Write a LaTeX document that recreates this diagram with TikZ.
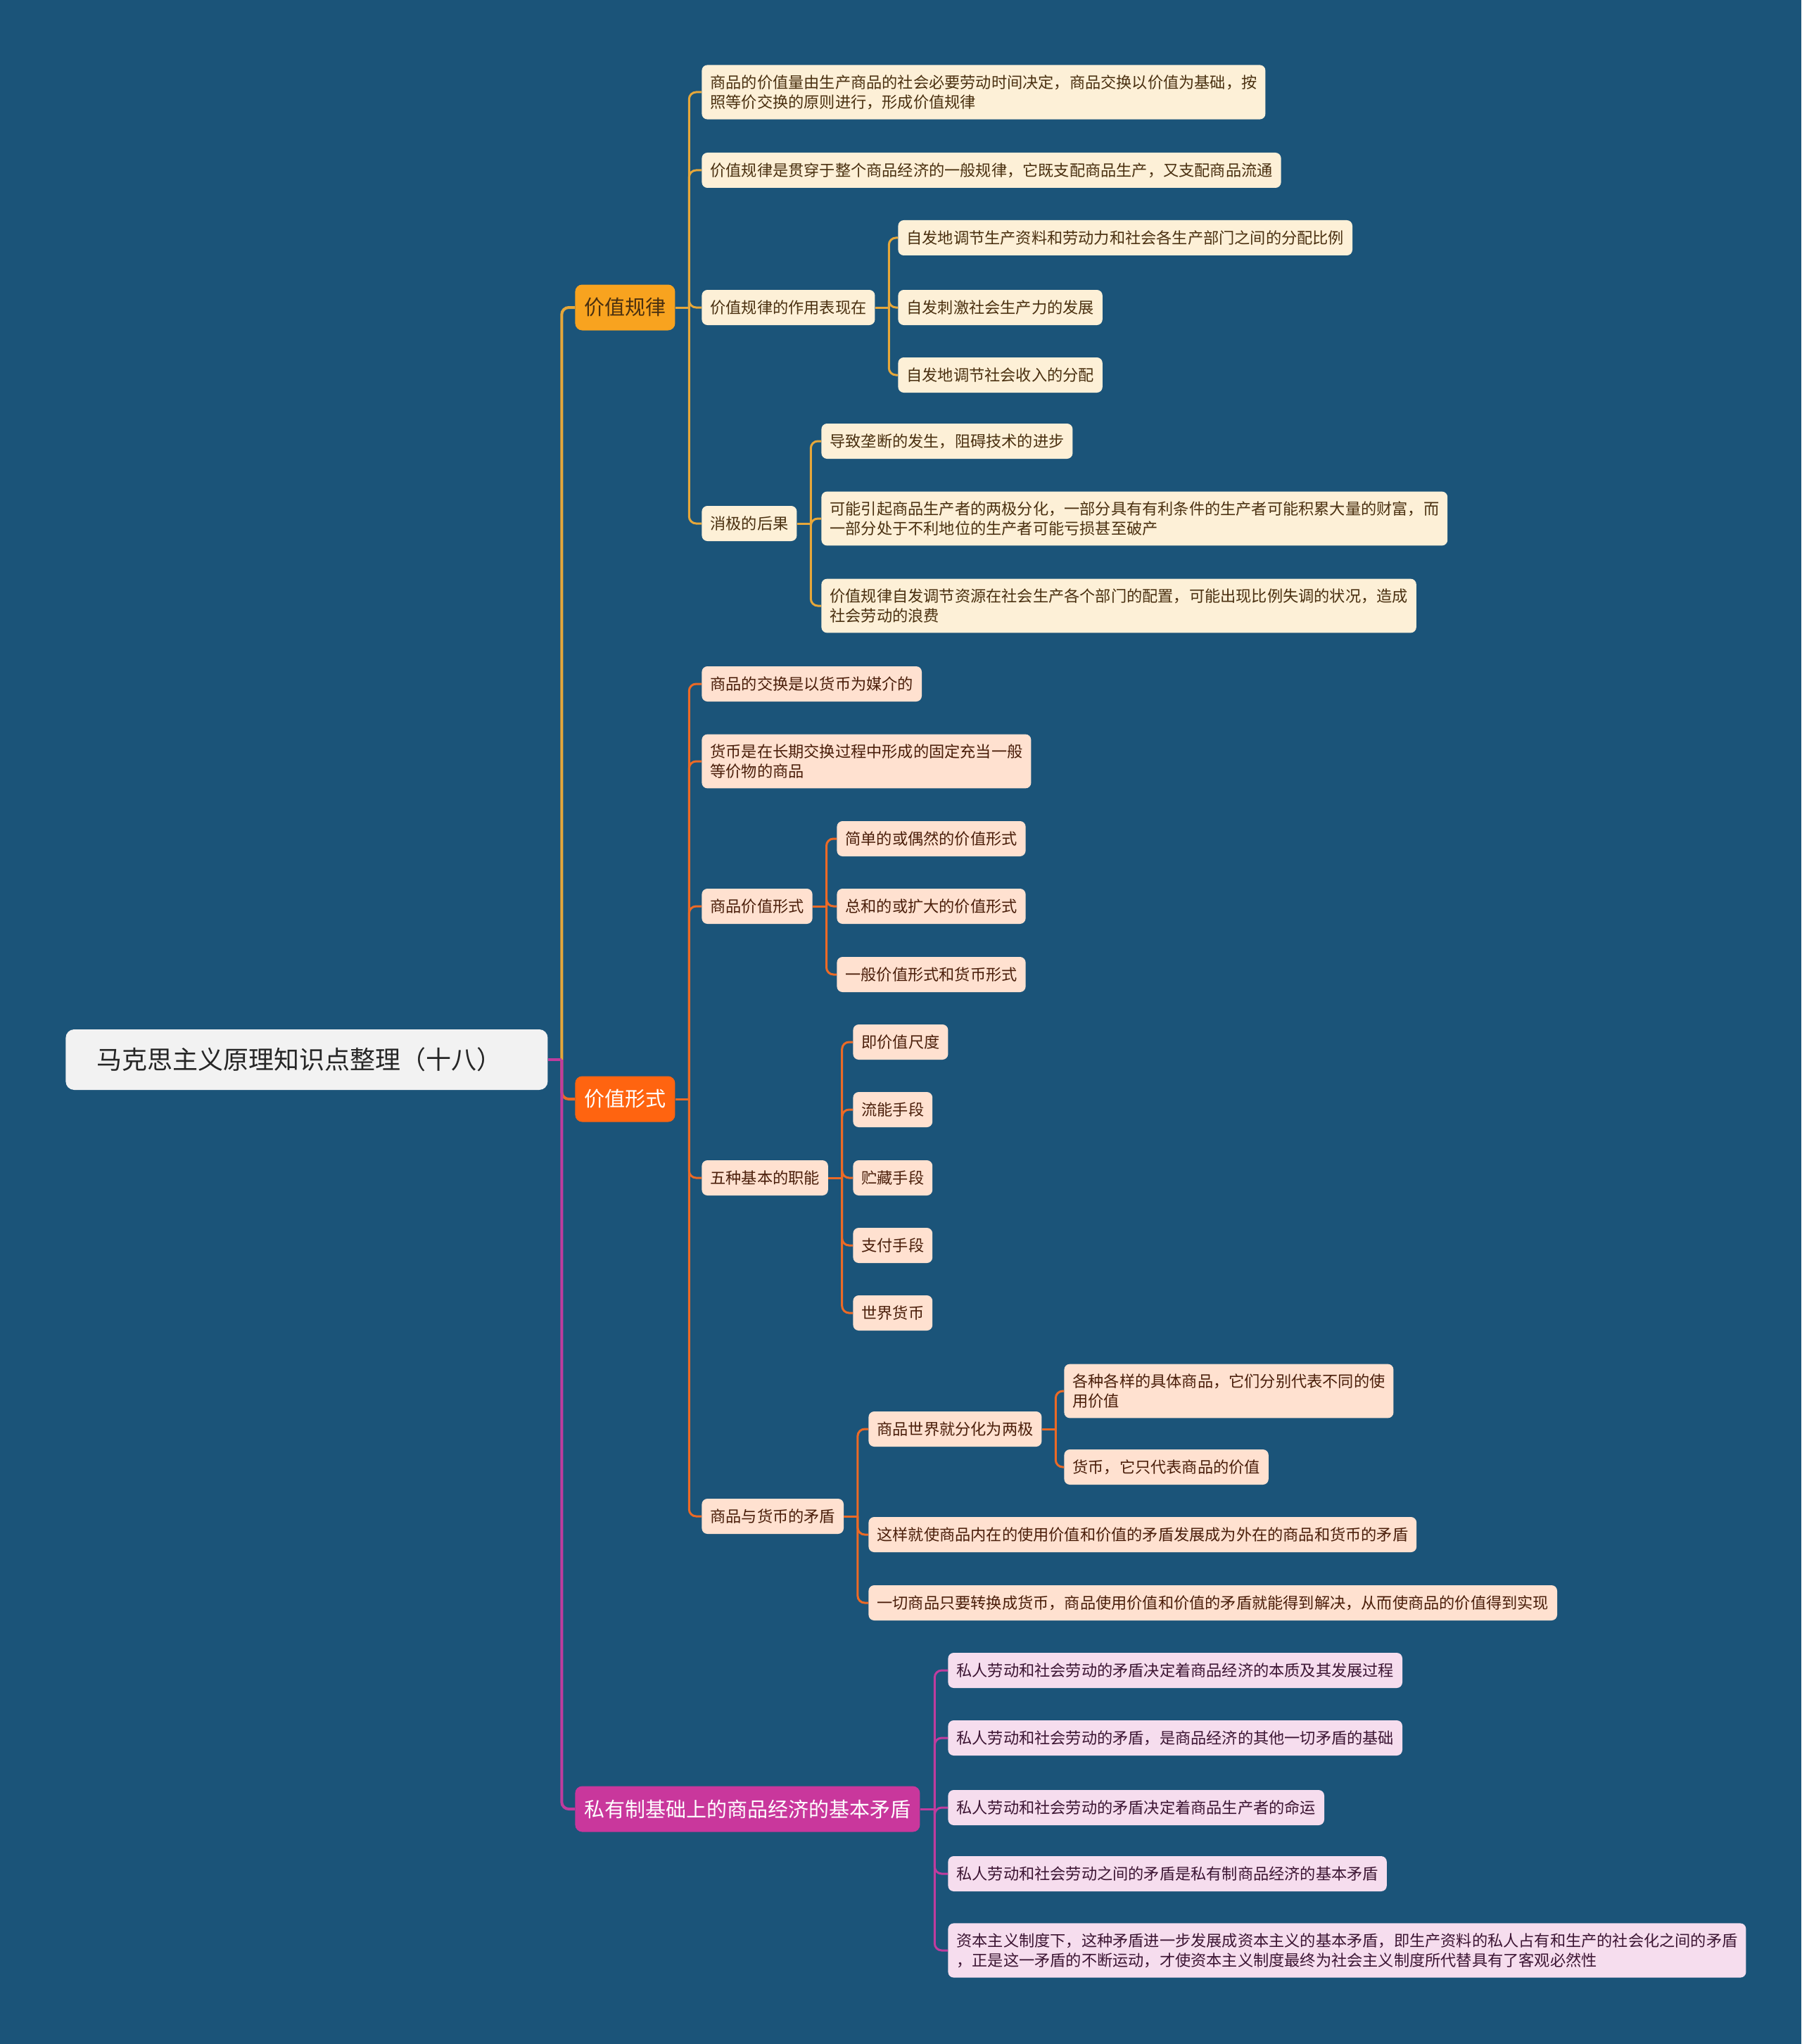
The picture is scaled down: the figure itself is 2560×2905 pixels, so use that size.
\documentclass[tikz,border=0pt]{standalone}
\usepackage{fontspec}
\newfontfamily\cjk{Noto Sans CJK SC}
\usetikzlibrary{positioning}
\definecolor{mapbg}{HTML}{1B5479}
\definecolor{rootfill}{HTML}{F2F2F2}
\definecolor{lawtopic}{HTML}{F8A31F}
\definecolor{lawfill}{HTML}{FDF0D7}
\definecolor{lawtext}{HTML}{4A3010}
\definecolor{lawwire}{HTML}{E6A73A}
\definecolor{formtopic}{HTML}{FF6410}
\definecolor{formfill}{HTML}{FFE1D0}
\definecolor{formtext}{HTML}{4A1E0A}
\definecolor{formwire}{HTML}{EC6A26}
\definecolor{coretopic}{HTML}{C9379C}
\definecolor{corefill}{HTML}{F6DDEE}
\definecolor{coretext}{HTML}{3C1533}
\definecolor{corewire}{HTML}{C03C9E}

\begin{document}
\begin{tikzpicture}[
  x=0.5pt, y=-0.5pt,
  leaf/.style={rounded corners=4pt, anchor=west, align=left,
    inner xsep=6pt, inner ysep=7pt, minimum height=25pt,
    font=\cjk\fontsize{11.1}{14}\selectfont},
  lawleaf/.style={leaf, fill=lawfill, text=lawtext},
  formleaf/.style={leaf, fill=formfill, text=formtext},
  coreleaf/.style={leaf, fill=corefill, text=coretext},
  topic/.style={rounded corners=5pt, anchor=west, inner xsep=6.5pt,
    inner ysep=0pt, minimum height=32.5pt,
    font=\cjk\fontsize{14.5}{17}\selectfont},
  wire/.style={line width=1.5pt, rounded corners=5pt},
  trunk/.style={line width=2pt, rounded corners=5pt},
]
\fill[mapbg] (0,0) rectangle (2560,2905);

% centre and the three main topics
\node[rounded corners=6pt, anchor=west, fill=rootfill, text=black!85,
  text width=298.5pt, align=left, inner xsep=22pt, minimum height=43pt,
  font=\cjk\fontsize{18}{21}\selectfont] (root) at (93,1506)
  {马克思主义原理知识点整理（十八）};
\node[topic, fill=lawtopic, text=lawtext] (law) at (817,437) {价值规律};
\node[topic, fill=formtopic, text=white] (form) at (817,1562) {价值形式};
\node[topic, fill=coretopic, text=white] (core) at (817,2571) {私有制基础上的商品经济的基本矛盾};

\path (root.east) ++(19.5,0) coordinate (s0);
\draw[trunk, draw=formwire] (s0) |- (form.west);
\draw[trunk, draw=lawwire] (s0) |- (law.west);
\draw[trunk, draw=corewire] (s0) |- (core.west);
\draw[trunk, draw=corewire] (root.east) -- (s0);

% value law
\node[lawleaf] (law1) at (997,131) {商品的价值量由生产商品的社会必要劳动时间决定，商品交换以价值为基础，按\\照等价交换的原则进行，形成价值规律};
\node[lawleaf] (law2) at (997,242) {价值规律是贯穿于整个商品经济的一般规律，它既支配商品生产，又支配商品流通};
\node[lawleaf] (law3) at (997,437) {价值规律的作用表现在};
\node[lawleaf] (law4) at (997,744) {消极的后果};
\node[lawleaf] (law31) at (1276,338) {自发地调节生产资料和劳动力和社会各生产部门之间的分配比例};
\node[lawleaf] (law32) at (1276,437) {自发刺激社会生产力的发展};
\node[lawleaf] (law33) at (1276,533) {自发地调节社会收入的分配};
\node[lawleaf] (law41) at (1167,627) {导致垄断的发生，阻碍技术的进步};
\node[lawleaf] (law42) at (1167,737) {可能引起商品生产者的两极分化，一部分具有有利条件的生产者可能积累大量的财富，而\\一部分处于不利地位的生产者可能亏损甚至破产};
\node[lawleaf] (law43) at (1167,861) {价值规律自发调节资源在社会生产各个部门的配置，可能出现比例失调的状况，造成\\社会劳动的浪费};

\draw[wire, draw=lawwire] (law.east) -- ++(19.5,0) coordinate (s1);
\foreach \n in {law1,law2,law3,law4} \draw[wire, draw=lawwire] (s1) |- (\n.west);
\draw[wire, draw=lawwire] (law3.east) -- ++(19.5,0) coordinate (s13);
\foreach \n in {law31,law32,law33} \draw[wire, draw=lawwire] (s13) |- (\n.west);
\draw[wire, draw=lawwire] (law4.east) -- ++(19.5,0) coordinate (s14);
\foreach \n in {law41,law42,law43} \draw[wire, draw=lawwire] (s14) |- (\n.west);

% value form
\node[formleaf] (form1) at (997,972) {商品的交换是以货币为媒介的};
\node[formleaf] (form2) at (997,1082) {货币是在长期交换过程中形成的固定充当一般\\等价物的商品};
\node[formleaf] (form3) at (997,1288) {商品价值形式};
\node[formleaf] (form4) at (997,1674) {五种基本的职能};
\node[formleaf] (form5) at (997,2155) {商品与货币的矛盾};
\node[formleaf] (form31) at (1189,1192) {简单的或偶然的价值形式};
\node[formleaf] (form32) at (1189,1288) {总和的或扩大的价值形式};
\node[formleaf] (form33) at (1189,1385) {一般价值形式和货币形式};
\node[formleaf] (form41) at (1212,1481) {即价值尺度};
\node[formleaf] (form42) at (1212,1577) {流能手段};
\node[formleaf] (form43) at (1212,1674) {贮藏手段};
\node[formleaf] (form44) at (1212,1770) {支付手段};
\node[formleaf] (form45) at (1212,1866) {世界货币};
\node[formleaf] (form51) at (1234,2031) {商品世界就分化为两极};
\node[formleaf] (form52) at (1234,2181) {这样就使商品内在的使用价值和价值的矛盾发展成为外在的商品和货币的矛盾};
\node[formleaf] (form53) at (1234,2278) {一切商品只要转换成货币，商品使用价值和价值的矛盾就能得到解决，从而使商品的价值得到实现};
\node[formleaf] (form511) at (1512,1977) {各种各样的具体商品，它们分别代表不同的使\\用价值};
\node[formleaf] (form512) at (1512,2085) {货币，它只代表商品的价值};

\draw[wire, draw=formwire] (form.east) -- ++(19.5,0) coordinate (s2);
\foreach \n in {form1,form2,form3,form4,form5} \draw[wire, draw=formwire] (s2) |- (\n.west);
\draw[wire, draw=formwire] (form3.east) -- ++(19.5,0) coordinate (s23);
\foreach \n in {form31,form32,form33} \draw[wire, draw=formwire] (s23) |- (\n.west);
\draw[wire, draw=formwire] (form4.east) -- ++(19.5,0) coordinate (s24);
\foreach \n in {form41,form42,form43,form44,form45} \draw[wire, draw=formwire] (s24) |- (\n.west);
\draw[wire, draw=formwire] (form5.east) -- ++(19.5,0) coordinate (s25);
\foreach \n in {form51,form52,form53} \draw[wire, draw=formwire] (s25) |- (\n.west);
\draw[wire, draw=formwire] (form51.east) -- ++(19.5,0) coordinate (s251);
\foreach \n in {form511,form512} \draw[wire, draw=formwire] (s251) |- (\n.west);

% basic contradiction
\node[coreleaf] (core1) at (1347,2374) {私人劳动和社会劳动的矛盾决定着商品经济的本质及其发展过程};
\node[coreleaf] (core2) at (1347,2470) {私人劳动和社会劳动的矛盾，是商品经济的其他一切矛盾的基础};
\node[coreleaf] (core3) at (1347,2569) {私人劳动和社会劳动的矛盾决定着商品生产者的命运};
\node[coreleaf] (core4) at (1347,2663) {私人劳动和社会劳动之间的矛盾是私有制商品经济的基本矛盾};
\node[coreleaf] (core5) at (1347,2772) {资本主义制度下，这种矛盾进一步发展成资本主义的基本矛盾，即生产资料的私人占有和生产的社会化之间的矛盾\\，正是这一矛盾的不断运动，才使资本主义制度最终为社会主义制度所代替具有了客观必然性};

\draw[wire, draw=corewire] (core.east) -- ++(20.5,0) coordinate (s3);
\foreach \n in {core1,core2,core3,core4,core5} \draw[wire, draw=corewire] (s3) |- (\n.west);
\end{tikzpicture}
\end{document}
